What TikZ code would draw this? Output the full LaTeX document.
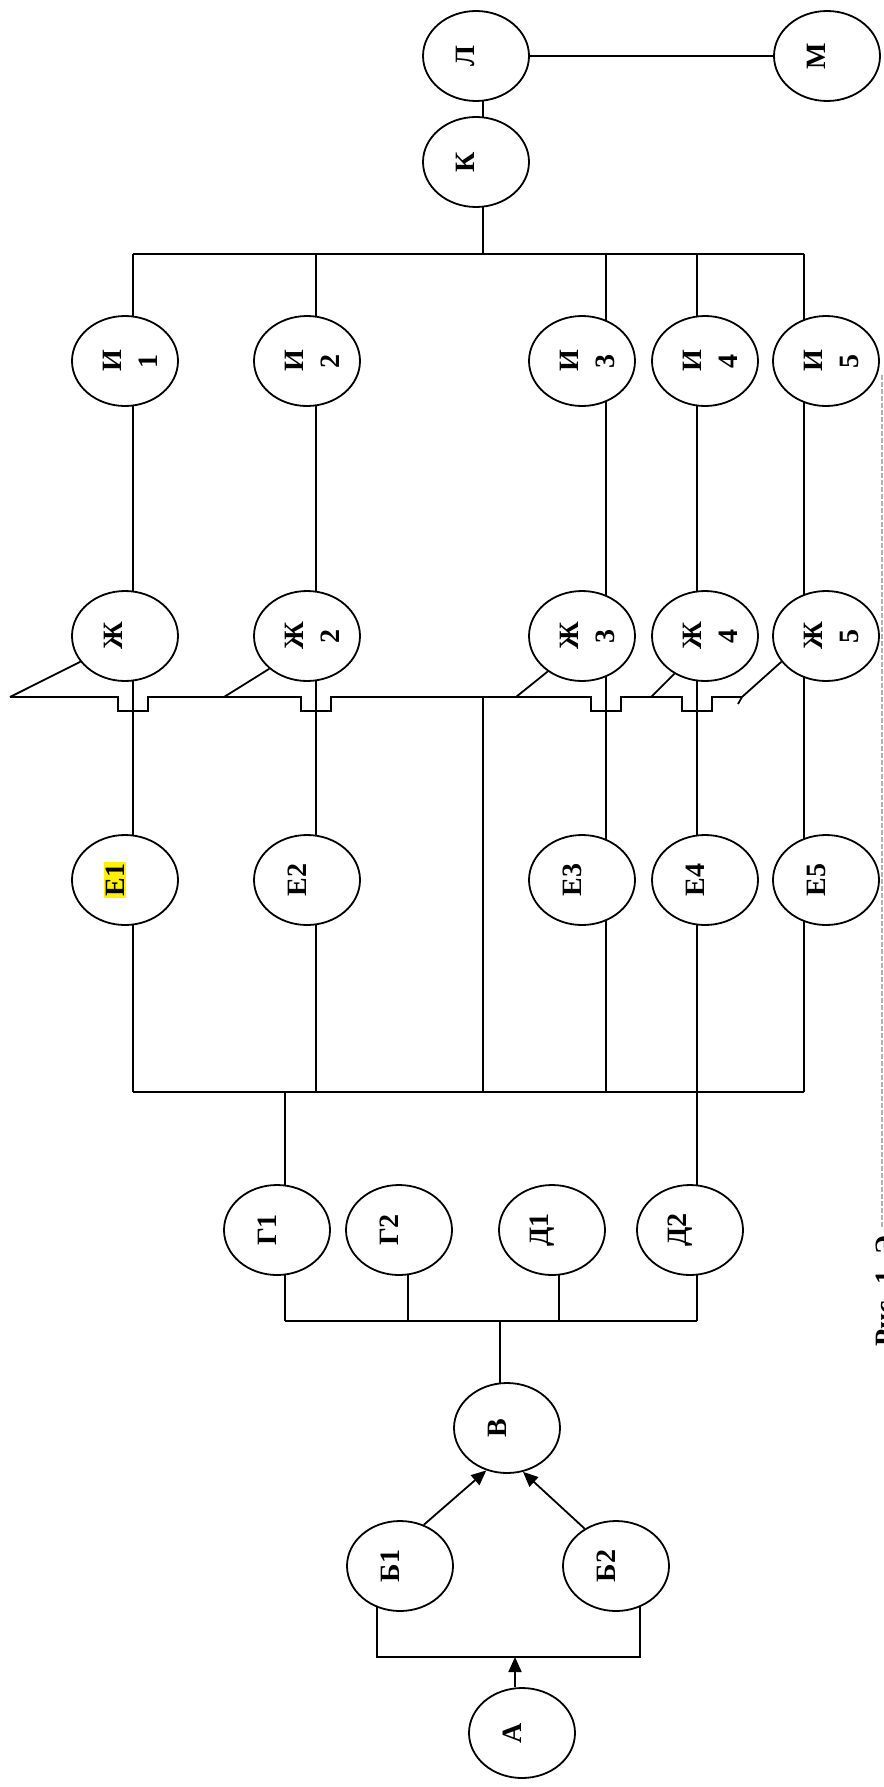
\documentclass[tikz,border=0pt]{standalone}
\usepackage{fontspec}
\setmainfont{Liberation Serif}
\usetikzlibrary{arrows.meta,shapes.geometric,backgrounds,calc}
\begin{document}
\begin{tikzpicture}[x=1pt,y=-1pt,
  nd/.style={ellipse,draw,fill=white,line width=1.8pt,minimum width=106pt,minimum height=90pt,inner sep=0pt},
  lbl/.style={font=\fontsize{28pt}{34pt}\selectfont\bfseries,rotate=90,inner sep=0pt},
  ln/.style={line width=1.8pt},
  arr/.style={ln,-{Triangle[length=15pt,width=13pt]}}]
\useasboundingbox (0,0) rectangle (883,1787);
\clip (0,0) rectangle (883,1787);

% nodes
\node[nd] (l) at (476,56) {};
\node[nd] (k) at (476,162) {};
\node[nd] (m) at (827,56) {};
\foreach \n/\x in {1/125,2/307,3/582,4/705,5/826} {
  \node[nd] (i\n) at (\x,361) {};
  \node[nd] (zh\n) at (\x,636) {};
  \node[nd] (e\n) at (\x,880) {};
}
\node[nd] (g1) at (277,1230) {};
\node[nd] (g2) at (399,1230) {};
\node[nd] (d1) at (552,1230) {};
\node[nd] (d2) at (690,1230) {};
\node[nd] (v) at (507,1428) {};
\node[nd] (b1) at (400,1566) {};
\node[nd] (b2) at (616,1566) {};
\node[nd] (a) at (522,1733) {};

% labels
\node[lbl] (tl) at ([xshift=-11pt]l.center) {Л};
\node[lbl] (tk) at ([xshift=-11pt]k.center) {К};
\node[lbl] (tm) at ([xshift=-11pt]m.center) {М};
\foreach \n in {1,...,5} {
  \node[lbl] (ti\n a) at ([xshift=-13pt]i\n.center) {И};
  \node[lbl] (ti\n b) at ([xshift=23pt]i\n.center) {\n};
}
\node[lbl] (tzh1) at ([xshift=-12pt]zh1.center) {Ж};
\foreach \n in {2,...,5} {
  \node[lbl] (tzh\n a) at ([xshift=-13pt]zh\n.center) {Ж};
  \node[lbl] (tzh\n b) at ([xshift=23pt]zh\n.center) {\n};
}
\node[lbl,fill=yellow,inner sep=1.5pt] (te1) at ([xshift=-10pt]e1.center) {Е1};
\foreach \n in {2,...,5} {
  \node[lbl] (te\n) at ([xshift=-10pt]e\n.center) {Е\n};
}
\node[lbl] (tg1) at ([xshift=-10pt]g1.center) {Г1};
\node[lbl] (tg2) at ([xshift=-10pt]g2.center) {Г2};
\node[lbl] (td1) at ([xshift=-10pt]d1.center) {Д1};
\node[lbl] (td2) at ([xshift=-10pt]d2.center) {Д2};
\node[lbl] (tv) at ([xshift=-10pt]v.center) {В};
\node[lbl] (tb1) at ([xshift=-10pt]b1.center) {Б1};
\node[lbl] (tb2) at ([xshift=-10pt]b2.center) {Б2};
\node[lbl] (ta) at ([xshift=-10pt]a.center) {А};

% junction coordinates
\coordinate (ib1) at (133,254);
\coordinate (ib2) at (316,254);
\coordinate (ib3) at (606,254);
\coordinate (ib4) at (697,254);
\coordinate (ib5) at (804,254);
\coordinate (kb) at (483,254);
\coordinate (eb1) at (133,1092);
\coordinate (eb2) at (316,1092);
\coordinate (eb3) at (606,1092);
\coordinate (eb4) at (697,1092);
\coordinate (eb5) at (804,1092);
\coordinate (ebm) at (483,1092);
\coordinate (ebg) at (285,1092);
\coordinate (hz0) at (10,697);
\coordinate (j1) at (133,697);
\coordinate (j2) at (316,697);
\coordinate (j3) at (606,697);
\coordinate (j4) at (697,697);
\coordinate (jm) at (483,697);
\coordinate (hzend) at (742,697);
\coordinate (hd2) at (224,697);
\coordinate (hd3) at (516,697);
\coordinate (hd4) at (651,697);
\coordinate (gb1) at (285,1321);
\coordinate (gb2) at (408,1321);
\coordinate (gb3) at (559,1321);
\coordinate (gb4) at (697,1321);
\coordinate (gbv) at (500,1321);
\coordinate (bl) at (377,1657);
\coordinate (br) at (640,1657);
\coordinate (ab) at (515,1657);

\begin{scope}[on background layer]
\fill[white] (0,0) rectangle (883,1787);
\draw[ln] (ib1) -- (ib5);
\draw[ln] (kb) -- (kb |- k.center) -- (kb |- l.center);
\foreach \n in {1,...,5} {
  \draw[ln] (ib\n) -- (ib\n |- i\n.center) -- (ib\n |- zh\n.center) -- (ib\n |- e\n.center) -- (eb\n);
}
\draw[ln] (eb1) -- (eb5);
\draw[ln] (jm) -- (ebm);
\draw[ln] (hz0) -- ([xshift=-15pt]j1) -- ++(0,14) -- ++(30,0) -- ++(0,-14)
  -- ([xshift=-15pt]j2) -- ++(0,14) -- ++(30,0) -- ++(0,-14)
  -- ([xshift=-15pt]j3) -- ++(0,14) -- ++(30,0) -- ++(0,-14)
  -- ([xshift=-15pt]j4) -- ++(0,14) -- ++(30,0) -- ++(0,-14)
  -- (hzend);
\draw[ln] (hz0) -- (zh1.210);
\draw[ln] (hd2) -- (zh2.221);
\draw[ln] (hd3) -- (zh3.226);
\draw[ln] (hd4) -- (zh4.231);
\draw[ln] (hzend) -- (zh5.210);
\draw[ln] (hzend) -- ++(-4,7);
\draw[ln] (ebg) -- (ebg |- g1.center) -- (gb1);
\draw[ln] (eb4) -- (eb4 |- d2.center) -- (gb4);
\draw[ln] (gb1) -- (gb4);
\draw[ln] (gb2) -- (gb2 |- g2.center);
\draw[ln] (gb3) -- (gb3 |- d1.center);
\draw[ln] (gbv) -- (gbv |- v.center);
\draw[ln] (bl |- b1.center) -- (bl) -- (br) -- (br |- b2.center);
\end{scope}

\draw[ln] (l) -- (m);
\draw[arr] (ab |- a.north) -- (ab);
\draw[arr] (b1.60) -- (v.244);
\draw[arr] (b2.130) -- (v.290);

% caption (clipped at the page edge)
\node[lbl,anchor=base west] (cap) at (894,1347) {Рис. 1. Э};
\draw[gray!60,line width=1.2pt,dash pattern=on 5pt off 2pt] (882,375) -- (882,1228);
\end{tikzpicture}
\end{document}
